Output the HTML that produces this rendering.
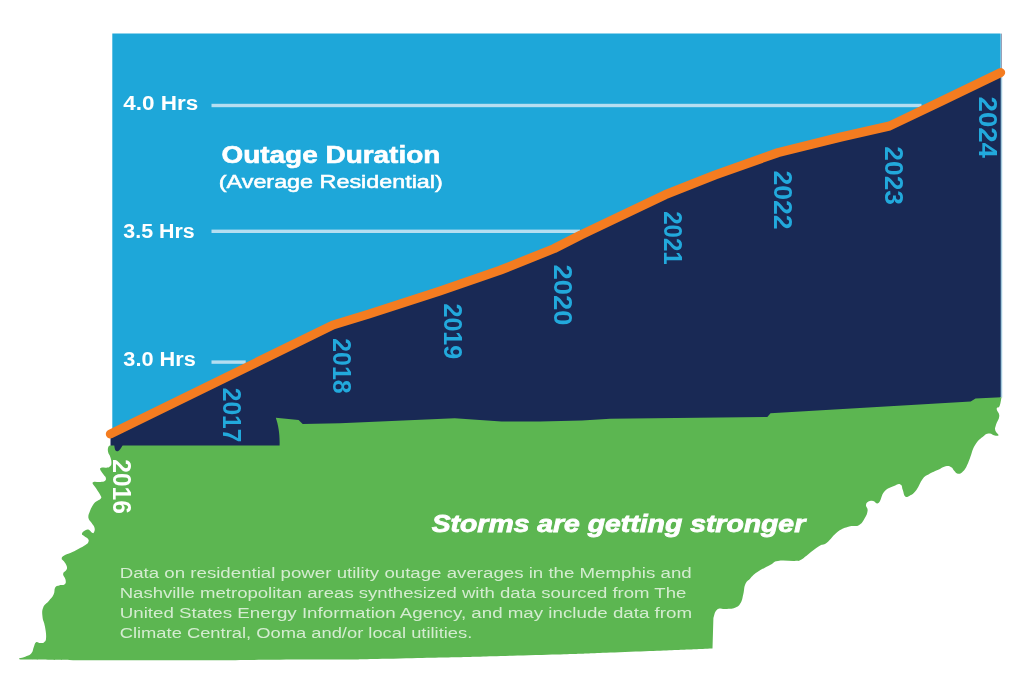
<!DOCTYPE html>
<html lang="en">
<head>
<meta charset="utf-8">
<title>Outage Duration - Storms are getting stronger</title>
<style>
  html, body { margin: 0; padding: 0; background: #ffffff; }
  body { width: 1024px; height: 694px; overflow: hidden; font-family: "Liberation Sans", sans-serif; }
  svg { display: block; }
  .lbl  { font-family: "Liberation Sans", sans-serif; font-weight: 700; fill: #ffffff; }
  .yr   { font-family: "Liberation Sans", sans-serif; font-weight: 700; fill: #22a9dc; }
  .note { font-family: "Liberation Sans", sans-serif; font-weight: 400; fill: #d4ecd0; }
</style>
</head>
<body>
<svg width="1024" height="694" viewBox="0 0 1024 694">
  <!-- sky / chart background -->
  <path fill="#1ea7d9" d="M112.3,33.5 L1000.1,33.5 L1000.1,72.8 L940.0,101.8 L889.5,126.0 L841.0,137.0 L778.0,152.6 L715.0,175.0 L665.0,194.8 L581.0,234.9 L554.0,248.6 L500.0,270.3 L440.0,291.0 L369.0,314.0 L333.0,325.0 L112.3,433 Z"/>
  <!-- thin right edge line -->
  <g>
    <rect x="1000" y="33.6" width="1" height="39" fill="#6cc3e4"/>
    <rect x="1001" y="33.6" width="1" height="39" fill="#9aa0b6"/>
    <rect x="1000" y="72.5" width="1" height="325" fill="#3d6088"/>
    <rect x="1001" y="72.5" width="1" height="325" fill="#a3c8db"/>
    <rect x="1002" y="72.5" width="1" height="325" fill="#e8f4fa"/>
  </g>

  <!-- grid lines -->
  <g fill="#b5def1">
    <rect x="211.5" y="103.8" width="710" height="3.4"/>
    <rect x="211.5" y="229.6" width="368.5" height="3.4"/>
    <rect x="211.5" y="360.4" width="34.2" height="3.4"/>
  </g>

  <!-- navy area under the line -->
  <path id="area" fill="#192955" d="M110.4,434.0 L333.0,325.0 L369.0,314.0 L440.0,291.0 L500.0,270.3 L554.0,248.6 L581.0,234.9 L665.0,194.8 L715.0,175.0 L778.0,152.6 L841.0,137.0 L889.5,126.0 L940.0,101.8 L1000.1,72.8 L1000.1,397.4 L999.5,404 L975,408 L770,421 L300,433 L288,447 L110.5,447 L110.5,436 Z"/>

  <!-- Tennessee green shape -->
  <path id="tn" fill="#5cb651" d="M110.4,445.6 L279.6,445.4 C279.9,434 278.5,426 275.8,417.8 L298.6,419.9 L302.7,424.0 L340.0,423.2 L454.7,418.3 L501.5,421.6 L540.0,421.6 L582.0,420.5 L610.0,418.8 L767.3,417.0 L770.5,413.2 L970.7,401.6 L975.5,398.5 L1001.5,397.3 C1001.1,399.3 1000.7,403.3 999.6,406.0 C998.5,408.7 996.8,406.5 996.7,408.8 C996.6,411.1 999.5,412.3 999.3,416.0 C999.1,419.7 996.9,421.3 996.0,424.7 C995.1,428.1 994.7,427.9 995.3,430.4 C995.9,432.8 998.8,434.1 998.5,435.2 C998.2,436.3 996.0,435.6 993.9,435.2 C991.8,434.8 991.9,433.4 989.5,433.6 C987.1,433.8 987.2,433.3 983.8,435.9 C980.4,438.5 978.3,439.8 975.1,444.9 C971.9,450.0 972.1,452.8 970.1,457.8 C968.1,462.8 968.3,463.1 966.5,466.5 C964.7,469.9 964.2,470.5 962.2,472.2 C960.2,473.9 959.7,474.0 957.8,473.7 C955.9,473.4 955.7,472.3 954.2,470.8 C952.7,469.3 953.3,468.3 951.3,467.2 C949.3,466.1 948.8,465.5 945.6,466.2 C942.4,466.9 941.4,468.3 937.6,470.1 C933.8,471.9 932.7,472.0 929.2,474.0 C925.7,476.0 925.8,475.1 922.8,478.8 C919.8,482.5 919.4,486.1 916.4,490.0 C913.4,493.9 912.6,494.1 910.0,495.6 C907.4,497.1 906.9,497.7 905.2,496.4 C903.5,495.1 903.9,492.8 902.8,490.0 C901.7,487.2 902.5,485.3 900.4,484.4 C898.3,483.5 897.7,484.3 894.0,486.0 C890.3,487.7 887.9,487.7 884.4,491.6 C880.9,495.5 881.4,500.6 878.8,502.8 C876.2,505.0 875.6,501.2 873.2,500.9 C870.8,500.6 870.1,500.5 868.4,501.5 C866.7,502.5 866.2,503.0 866.0,505.2 C865.8,507.4 868.0,507.6 867.6,510.8 C867.2,514.0 866.5,515.4 864.4,518.8 C862.3,522.2 862.3,523.4 858.8,525.2 C855.3,527.0 854.1,525.0 849.2,526.5 C844.3,528.0 843.2,527.8 838.0,531.6 C832.8,535.4 831.2,539.4 826.8,542.8 C822.4,546.2 823.7,543.3 819.3,546.0 C814.9,548.7 812.4,551.1 808.0,554.4 C803.6,557.7 803.6,558.5 800.5,560.0 C797.4,561.5 800.1,560.7 794.9,560.9 C789.6,561.1 783.7,560.0 778.0,560.9 C772.3,561.8 775.3,562.1 770.5,564.7 C765.7,567.3 762.2,568.8 757.4,572.1 C752.6,575.4 752.8,575.9 750.0,578.7 C747.2,581.5 746.8,580.8 745.3,584.3 C743.8,587.8 744.5,589.3 743.4,593.7 C742.3,598.1 742.6,599.7 740.6,603.0 C738.6,606.3 738.5,606.3 735.0,607.7 C731.5,609.1 729.8,608.6 725.6,609.0 C721.4,609.4 720.0,607.5 717.2,609.6 C714.4,611.7 714.3,616.0 713.4,618.0 L712.5,648.4 C683.3,649.6 686.2,649.6 625.0,651.9 C563.8,654.2 604.0,653.0 529.0,655.2 C454.0,657.4 476.3,656.9 400.0,658.4 C323.7,659.9 389.0,659.0 300.0,659.6 C211.0,660.2 226.2,660.3 133.0,660.2 C39.8,660.1 57.9,659.7 20.3,659.4 C20.1,659.1 18.2,659.0 19.5,658.3 C20.8,657.6 23.0,657.6 25.8,656.4 C28.6,655.2 29.5,655.5 31.4,653.3 C33.3,651.1 32.7,649.5 33.8,646.9 C34.9,644.3 34.6,643.1 36.1,642.2 C37.6,641.3 38.2,643.0 40.1,643.0 C42.0,643.0 42.7,643.5 44.1,642.2 C45.5,640.9 45.9,641.1 46.1,637.4 C46.3,633.7 45.7,631.1 44.9,626.3 C44.1,621.5 42.9,621.2 42.5,616.8 C42.1,612.4 41.8,611.0 43.3,607.3 C44.8,603.6 46.4,604.0 48.8,601.0 C51.2,598.0 52.1,597.8 53.6,594.6 C55.1,591.5 53.9,589.6 55.2,587.5 C56.5,585.4 56.9,586.1 59.1,585.4 C61.3,584.7 63.2,585.7 64.7,584.3 C66.2,582.9 65.9,582.0 65.5,579.6 C65.1,577.2 62.9,576.2 63.1,574.0 C63.3,571.8 65.5,571.9 66.3,570.1 C67.1,568.3 67.3,568.2 66.7,566.1 C66.1,564.0 65.1,563.1 63.9,561.3 C62.7,559.5 61.6,559.9 61.7,558.5 C61.8,557.1 62.2,556.8 64.2,555.5 C66.2,554.2 67.0,554.5 70.3,553.0 C73.6,551.5 74.8,550.8 78.3,548.9 C81.8,547.0 83.0,546.5 85.4,544.9 C87.8,543.3 87.8,543.3 88.4,541.9 C89.0,540.5 88.8,540.1 87.9,538.8 C87.0,537.5 85.8,537.5 84.4,536.3 C83.0,535.1 81.7,535.2 81.9,533.8 C82.1,532.4 83.8,531.2 85.4,530.3 C87.0,529.4 87.4,529.2 88.9,529.8 C90.4,530.4 90.8,532.2 92.0,532.8 C93.2,533.4 93.4,533.5 94.0,532.3 C94.6,531.1 95.1,529.9 94.5,527.7 C93.9,525.5 92.9,525.0 91.5,522.7 C90.1,520.4 88.8,520.4 88.4,517.7 C88.1,515.0 88.9,514.1 90.0,511.1 C91.1,508.1 91.6,507.2 93.0,505.0 C94.4,502.8 94.4,503.1 96.2,501.6 C98.0,500.1 99.8,500.0 100.8,498.5 C101.8,497.0 101.4,497.4 100.3,495.0 C99.2,492.6 98.0,491.3 96.2,488.4 C94.4,485.5 91.7,483.9 92.7,482.4 C93.7,480.9 97.5,482.2 100.3,481.9 C103.1,481.5 103.5,481.9 104.8,480.9 C106.1,479.9 106.1,479.3 105.8,477.8 C105.5,476.3 104.6,476.2 103.3,474.3 C102.0,472.4 100.8,471.3 100.3,469.8 C99.8,468.3 99.9,468.2 101.3,467.7 C102.7,467.2 104.3,468.0 106.3,467.7 C108.3,467.4 108.7,467.4 109.9,466.4 C111.1,465.3 111.3,465.3 111.4,463.2 C111.5,461.1 111.2,459.8 110.4,457.2 C109.6,454.6 108.6,454.5 108.1,452.1 C107.6,449.7 107.8,448.6 108.3,447.1 C108.8,445.6 109.9,446.0 110.4,445.6 Z"/>

  <path fill="#192955" d="M114.3,444 L122.8,444 L122.5,445.6 C121,448.2 119.4,450.8 117.9,451.2 C116,451.9 114.6,450.4 114.3,445.6 Z"/>

  <!-- orange trend line -->
  <polyline fill="none" stroke="#f47c20" stroke-width="9.1" stroke-linecap="round" stroke-linejoin="round"
    points="110.4,434.0 333.0,325.0 369.0,314.0 440.0,291.0 500.0,270.3 554.0,248.6 581.0,234.9 665.0,194.8 715.0,175.0 778.0,152.6 841.0,137.0 889.5,126.0 940.0,101.8 1000.6,72.6"/>

  <!-- y-axis labels -->
  <text class="lbl" x="123.3" y="110.3" font-size="20" textLength="75" lengthAdjust="spacingAndGlyphs">4.0 Hrs</text>
  <text class="lbl" x="123.3" y="237.8" font-size="20" textLength="71.5" lengthAdjust="spacingAndGlyphs">3.5 Hrs</text>
  <text class="lbl" x="123.3" y="365.6" font-size="20" textLength="72.5" lengthAdjust="spacingAndGlyphs">3.0 Hrs</text>

  <!-- title -->
  <text class="lbl" x="221.5" y="163.4" font-size="23.2" stroke="#ffffff" stroke-width="0.6" textLength="218.8" lengthAdjust="spacingAndGlyphs">Outage Duration</text>
  <text class="lbl" x="218.8" y="187.9" font-size="19" style="font-weight:400" stroke="#ffffff" stroke-width="0.55" textLength="224" lengthAdjust="spacingAndGlyphs">(Average Residential)</text>

  <!-- year labels (rotated 90deg clockwise) -->
  <text class="yr" style="fill:#ffffff" font-size="25" transform="translate(112.8,459.3) rotate(90)" textLength="54.5" lengthAdjust="spacingAndGlyphs">2016</text>
  <text class="yr" font-size="25" transform="translate(222.8,387.8) rotate(90)" textLength="54.6" lengthAdjust="spacingAndGlyphs">2017</text>
  <text class="yr" font-size="25" transform="translate(333,338.2) rotate(90)" textLength="55.4" lengthAdjust="spacingAndGlyphs">2018</text>
  <text class="yr" font-size="25" transform="translate(444,303.5) rotate(90)" textLength="55.6" lengthAdjust="spacingAndGlyphs">2019</text>
  <text class="yr" font-size="25" transform="translate(554,264.5) rotate(90)" textLength="61" lengthAdjust="spacingAndGlyphs">2020</text>
  <text class="yr" font-size="25" transform="translate(664.4,211.2) rotate(90)" textLength="53.4" lengthAdjust="spacingAndGlyphs">2021</text>
  <text class="yr" font-size="25" transform="translate(774,170.6) rotate(90)" textLength="58.9" lengthAdjust="spacingAndGlyphs">2022</text>
  <text class="yr" font-size="25" transform="translate(885,146.3) rotate(90)" textLength="58.7" lengthAdjust="spacingAndGlyphs">2023</text>
  <text class="yr" font-size="25" transform="translate(978.8,96.6) rotate(90)" textLength="61.3" lengthAdjust="spacingAndGlyphs">2024</text>

  <!-- tagline -->
  <text class="lbl" x="431.7" y="531.5" font-size="23" font-style="italic" stroke="#ffffff" stroke-width="0.8" textLength="373.5" lengthAdjust="spacingAndGlyphs">Storms are getting stronger</text>

  <!-- footnote -->
  <g class="note" font-size="15.2">
    <text x="119.7" y="577.9" textLength="572" lengthAdjust="spacingAndGlyphs">Data on residential power utility outage averages in the Memphis and</text>
    <text x="119.7" y="598" textLength="566.6" lengthAdjust="spacingAndGlyphs">Nashville metropolitan areas synthesized with data sourced from The</text>
    <text x="119.7" y="617.9" textLength="572.4" lengthAdjust="spacingAndGlyphs">United States Energy Information Agency, and may include data from</text>
    <text x="119.7" y="637.7" textLength="352.6" lengthAdjust="spacingAndGlyphs">Climate Central, Ooma and/or local utilities.</text>
  </g>
</svg>
</body>
</html>
